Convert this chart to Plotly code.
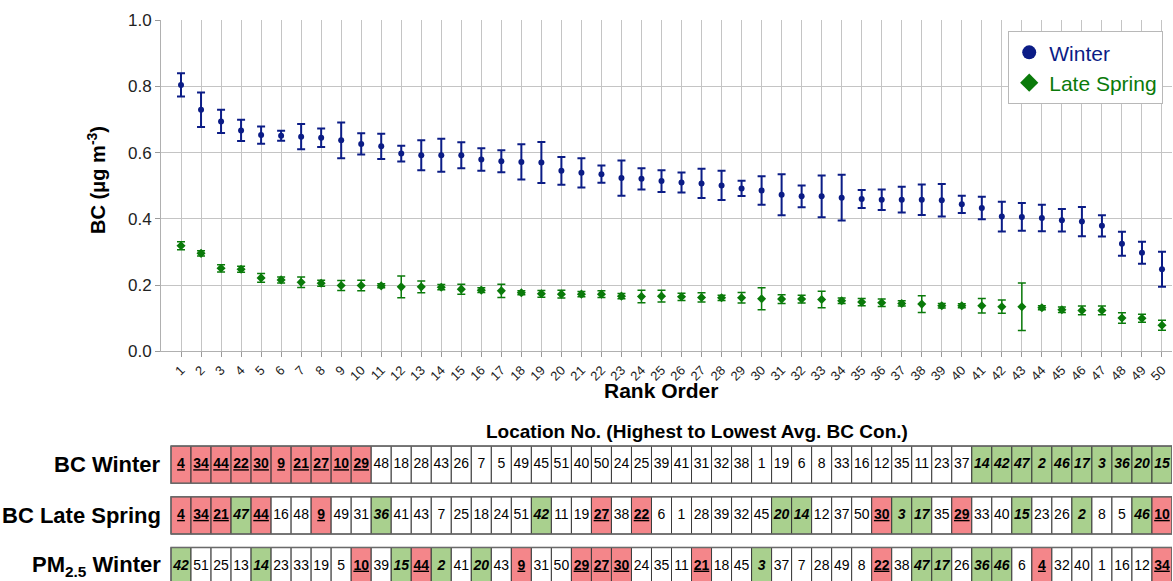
import plotly.graph_objects as go

# ---------------- data ----------------
rank = list(range(1, 51))

winter_mean = [0.804, 0.729, 0.694, 0.667, 0.653, 0.651, 0.648, 0.645, 0.637, 0.626,
               0.619, 0.597, 0.592, 0.592, 0.592, 0.579, 0.574, 0.572, 0.570, 0.545,
               0.539, 0.535, 0.523, 0.521, 0.514, 0.510, 0.507, 0.501, 0.492, 0.486,
               0.473, 0.468, 0.468, 0.464, 0.460, 0.458, 0.458, 0.458, 0.456, 0.444,
               0.433, 0.407, 0.406, 0.403, 0.396, 0.392, 0.379, 0.325, 0.298, 0.248]
winter_err = [0.035, 0.052, 0.035, 0.032, 0.026, 0.015, 0.038, 0.028, 0.054, 0.032,
              0.038, 0.024, 0.045, 0.050, 0.039, 0.034, 0.033, 0.053, 0.062, 0.042,
              0.044, 0.026, 0.053, 0.032, 0.033, 0.030, 0.044, 0.044, 0.023, 0.043,
              0.062, 0.033, 0.063, 0.069, 0.027, 0.031, 0.039, 0.046, 0.049, 0.026,
              0.034, 0.045, 0.042, 0.040, 0.034, 0.044, 0.032, 0.036, 0.033, 0.053]

spring_mean = [0.319, 0.296, 0.251, 0.248, 0.222, 0.216, 0.209, 0.206, 0.199, 0.199,
               0.198, 0.195, 0.195, 0.194, 0.188, 0.185, 0.183, 0.177, 0.174, 0.173,
               0.173, 0.173, 0.167, 0.166, 0.167, 0.165, 0.163, 0.162, 0.162, 0.159,
               0.158, 0.158, 0.157, 0.153, 0.149, 0.147, 0.145, 0.143, 0.138, 0.138,
               0.138, 0.135, 0.135, 0.132, 0.126, 0.124, 0.124, 0.101, 0.100, 0.079]
spring_err = [0.012, 0.008, 0.011, 0.009, 0.013, 0.009, 0.016, 0.009, 0.015, 0.016,
              0.006, 0.033, 0.018, 0.008, 0.015, 0.007, 0.020, 0.006, 0.010, 0.012,
              0.008, 0.010, 0.008, 0.019, 0.018, 0.011, 0.014, 0.008, 0.016, 0.033,
              0.013, 0.012, 0.025, 0.008, 0.011, 0.011, 0.008, 0.025, 0.007, 0.006,
              0.022, 0.020, 0.072, 0.006, 0.008, 0.013, 0.013, 0.016, 0.012, 0.015]

y_ticks = [0.0, 0.2, 0.4, 0.6, 0.8, 1.0]

row_labels = ["BC Winter", "BC Late Spring", "PM<sub>2.5</sub> Winter"]
bc_winter_locs = [4, 34, 44, 22, 30, 9, 21, 27, 10, 29, 48, 18, 28, 43, 26, 7, 5, 49, 45, 51,
                  40, 50, 24, 25, 39, 41, 31, 32, 38, 1, 19, 6, 8, 33, 16, 12, 35, 11, 23, 37,
                  14, 42, 47, 2, 46, 17, 3, 36, 20, 15]
bc_spring_locs = [4, 34, 21, 47, 44, 16, 48, 9, 49, 31, 36, 41, 43, 7, 25, 18, 24, 51, 42, 11,
                  19, 27, 38, 22, 6, 1, 28, 39, 32, 45, 20, 14, 12, 37, 50, 30, 3, 17, 35, 29,
                  33, 40, 15, 23, 26, 2, 8, 5, 46, 10]
pm_winter_locs = [42, 51, 25, 13, 14, 23, 33, 19, 5, 10, 39, 15, 44, 2, 41, 20, 43, 9, 31, 50,
                  29, 27, 30, 24, 35, 11, 21, 18, 45, 3, 37, 7, 28, 49, 8, 22, 38, 47, 17, 26,
                  36, 46, 6, 4, 32, 40, 1, 16, 12, 34]
table_rows = [bc_winter_locs, bc_spring_locs, pm_winter_locs]
n_highlight = 10

# ---------------- style ----------------
WINTER_C = "#0b1c86"
SPRING_C = "#0a7a0a"
RED_C = "#f4868a"
GREEN_C = "#a9d08e"
GRID_C = "#c4c4c4"
FONT = "Arial, Liberation Sans, Helvetica, sans-serif"

top_set = set(bc_winter_locs[:n_highlight])
bottom_set = set(bc_winter_locs[-n_highlight:])

fig = go.Figure()

fig.add_trace(go.Scatter(
    x=rank, y=winter_mean, mode="markers", showlegend=False,
    marker=dict(symbol="circle", size=6, color=WINTER_C),
    error_y=dict(type="data", array=winter_err, visible=True, color=WINTER_C,
                 thickness=2, width=4),
    xaxis="x", yaxis="y"))
fig.add_trace(go.Scatter(
    x=rank, y=spring_mean, mode="markers", showlegend=False,
    marker=dict(symbol="diamond", size=7, color=SPRING_C),
    error_y=dict(type="data", array=spring_err, visible=True, color=SPRING_C,
                 thickness=1.5, width=4),
    xaxis="x", yaxis="y"))
# legend entries with larger symbols
fig.add_trace(go.Scatter(
    x=[None], y=[None], mode="markers",
    name='<span style="color:%s">Winter</span>' % WINTER_C,
    marker=dict(symbol="circle", size=14, color=WINTER_C), xaxis="x", yaxis="y"))
fig.add_trace(go.Scatter(
    x=[None], y=[None], mode="markers",
    name='<span style="color:%s">Late Spring</span>' % SPRING_C,
    marker=dict(symbol="diamond", size=14, color=SPRING_C), xaxis="x", yaxis="y"))

# ---------------- table ----------------
cell_h = 0.735
shapes = []
annotations = []
for r, locs in enumerate(table_rows):
    xs, ys, texts = [], [], []
    for i, loc in enumerate(locs):
        pos = rank[i]
        if loc in top_set:
            fill = RED_C
            txt = "<b><u>%d</u></b>" % loc
        elif loc in bottom_set:
            fill = GREEN_C
            txt = "<b><i>%d</i></b>" % loc
        else:
            fill = "white"
            txt = "%d" % loc
        shapes.append(dict(type="rect", xref="x2", yref="y2",
                           x0=pos - 0.5, x1=pos + 0.5,
                           y0=-r - cell_h / 2, y1=-r + cell_h / 2,
                           fillcolor=fill, line=dict(color="#3a3a3a", width=1),
                           layer="below"))
        xs.append(pos)
        ys.append(-r)
        texts.append(txt)
    shapes.append(dict(type="rect", xref="x2", yref="y2",
                       x0=rank[0] - 0.5, x1=rank[-1] + 0.5,
                       y0=-r - cell_h / 2, y1=-r + cell_h / 2,
                       fillcolor="rgba(0,0,0,0)", line=dict(color="#6a6a6a", width=1.5),
                       layer="above"))
    fig.add_trace(go.Scatter(
        x=xs, y=ys, text=texts, mode="text", showlegend=False, hoverinfo="skip",
        textposition="middle center",
        textfont=dict(family=FONT, size=14, color="black"),
        xaxis="x2", yaxis="y2"))
    annotations.append(dict(xref="paper", yref="y2", x=0.002, y=-r,
                            xanchor="right", yanchor="middle", showarrow=False,
                            text="<b>%s</b>" % row_labels[r],
                            font=dict(family=FONT, size=22, color="black")))

annotations.append(dict(xref="paper", yref="paper", x=0.530, y=0.2656,
                        xanchor="center", yanchor="middle", showarrow=False,
                        text="<b>Location No. (Highest to Lowest Avg. BC Con.)</b>",
                        font=dict(family=FONT, size=19, color="black")))
annotations.append(dict(xref="paper", yref="paper", x=0.4946, y=0.3387,
                        xanchor="center", yanchor="middle", showarrow=False,
                        text="<b>Rank Order</b>",
                        font=dict(family=FONT, size=21, color="black")))
annotations.append(dict(xref="paper", yref="paper", x=-0.0633, y=0.7148,
                        xanchor="center", yanchor="middle", showarrow=False,
                        textangle=-90,
                        text="<b>BC (μg m<sup>-3</sup>)</b>",
                        font=dict(family=FONT, size=20, color="black")))

fig.update_layout(
    width=1173, height=581,
    margin=dict(l=161, r=1, t=20, b=0, autoexpand=False),
    paper_bgcolor="white", plot_bgcolor="white",
    font=dict(family=FONT, color="#222222"),
    xaxis=dict(domain=[0, 1], range=[0, 50.5], tickmode="array", tickvals=rank,
               ticktext=[str(v) for v in rank], tickangle=-45,
               tickfont=dict(size=13, color="#222222"),
               showgrid=True, gridcolor=GRID_C, gridwidth=1,
               ticks="outside", ticklen=5, tickcolor="#9a9a9a",
               showline=True, linecolor="#b0b0b0", zeroline=False, anchor="y"),
    yaxis=dict(domain=[0.4091, 1], range=[0, 1.0], tickmode="array", tickvals=y_ticks,
               ticktext=["%.1f" % v for v in y_ticks],
               tickfont=dict(size=17, color="#222222"),
               showgrid=True, gridcolor=GRID_C, gridwidth=1,
               ticks="outside", ticklen=5, tickcolor="#9a9a9a",
               showline=True, linecolor="#b0b0b0", zeroline=False, anchor="x"),
    xaxis2=dict(domain=[0, 1], range=[0, 50.5], matches="x", visible=False,
                anchor="y2"),
    yaxis2=dict(domain=[0, 0.2513], range=[-2.294, 0.487], visible=False,
                anchor="x2"),
    legend=dict(x=0.838, y=0.980, xanchor="left", yanchor="top",
                bgcolor="white", bordercolor="#b8b8b8", borderwidth=1,
                font=dict(family=FONT, size=21), tracegroupgap=0),
    shapes=shapes,
    annotations=annotations,
)

fig.write_html("out.html",
               config={"displayModeBar": False},
               post_script="document.body.style.margin='0';"
                           "document.body.style.padding='0';"
                           "document.body.style.overflow='hidden';")
